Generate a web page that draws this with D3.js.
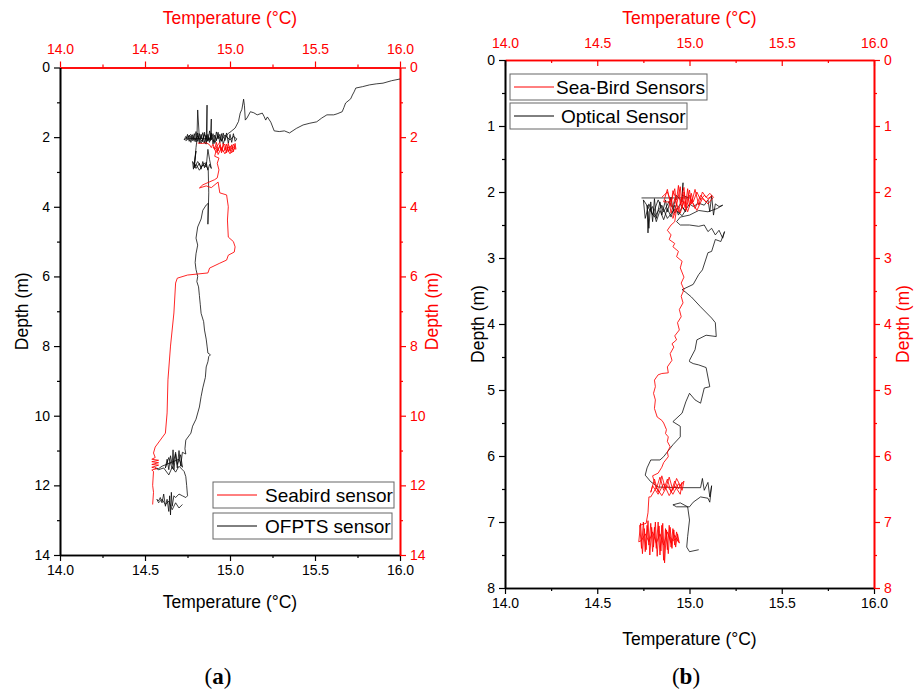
<!DOCTYPE html>
<html>
<head>
<meta charset="utf-8">
<title>Temperature profiles</title>
<script src="https://d3js.org/d3.v7.min.js"></script>
<style>
  body { margin: 0; background: #fff; }
  svg { font-family: "Liberation Sans", Arial, sans-serif; }
</style>
</head>
<body>
<svg id="chart" width="914" height="693"></svg>
<script>
// tick labels
let tempTicks = [14.0, 14.5, 15.0, 15.5, 16.0]
let tempMinor = [14.25, 14.75, 15.25, 15.75]
let depthTicksA = [0, 2, 4, 6, 8, 10, 12, 14]
let depthMinorA = [1, 3, 5, 7, 9, 11, 13]
let depthTicksB = [0, 1, 2, 3, 4, 5, 6, 7, 8]
let depthMinorB = [0.5, 1.5, 2.5, 3.5, 4.5, 5.5, 6.5, 7.5]

// panel (a) OFPTS sensor, [temperature, depth]
let ofptsA = [
  [16.00,0.33],[15.95,0.38],[15.90,0.45],[15.86,0.47],[15.82,0.50],[15.78,0.55],[15.74,0.59],[15.73,0.70],
  [15.72,0.79],[15.71,0.90],[15.68,1.02],[15.67,1.15],[15.66,1.27],[15.63,1.33],[15.61,1.36],[15.57,1.36],
  [15.54,1.45],[15.51,1.56],[15.47,1.60],[15.43,1.65],[15.39,1.75],[15.35,1.88],[15.32,1.82],[15.29,1.84],
  [15.26,1.82],[15.24,1.57],[15.22,1.42],[15.21,1.51],[15.20,1.40],[15.19,1.31],[15.16,1.36],[15.14,1.30],
  [15.12,1.27],[15.10,1.45],[15.09,1.51],[15.085,1.10],[15.08,0.91],[15.07,1.20],[15.06,1.31],[15.05,1.55],
  [15.03,1.74],[15.00,1.86],[14.99,1.89],
  [14.98,1.95],[14.97,2.10],[14.96,1.88],[14.95,2.12],[14.94,1.92],[14.93,2.05],[14.92,1.85],[14.91,2.14],
  [14.90,1.90],[14.89,2.08],[14.88,1.82],[14.87,2.12],[14.86,1.95],[14.85,2.16],[14.84,1.87],[14.83,2.05],
  [14.82,1.90],[14.81,2.12],[14.80,1.84],[14.79,2.08],[14.78,1.93],[14.77,2.15],[14.76,1.95],[14.75,2.05],
  [14.74,1.98],[14.73,2.08],[14.75,2.00],[14.77,1.92],[14.79,2.12],[14.81,1.96],[14.83,2.18],[14.85,1.92],
  [14.87,2.10],[14.89,1.95],[14.91,2.18],[14.93,1.96],[14.95,2.10],[14.97,1.94],[15.00,2.08],[15.02,1.98],
  [15.04,2.05],[15.03,2.12],[15.02,1.90],[15.01,2.15],[15.00,1.92],[14.99,2.18],[14.98,1.88],[14.97,2.05],
  [14.96,2.20],[14.95,1.90],[14.94,2.16],[14.93,1.86],[14.92,2.10],[14.91,1.94],[14.90,2.20],[14.89,1.88],
  [14.88,2.15],[14.87,1.92],[14.86,2.18],[14.85,1.86],[14.84,2.12],[14.83,1.92],[14.82,2.18],[14.81,1.88],
  [14.80,2.14],[14.79,1.90],[14.78,2.10],[14.77,1.96],[14.76,2.12],[14.75,1.92],[14.74,2.10],[14.76,2.04],
  [14.89,2.05],[14.89,1.48],[14.885,2.10],[14.865,2.00],[14.865,1.08],[14.86,2.20],[14.82,2.05],[14.81,1.22],
  [14.805,2.10],[14.80,2.30],[14.79,2.85],[14.80,2.40],[14.785,2.92],[14.78,2.70],[14.80,2.90],[14.82,2.75],
  [14.83,2.92],[14.84,2.70],[14.85,2.88],[14.86,2.72],[14.87,2.95],[14.88,2.78],[14.89,2.90],[14.88,2.65],
  [14.87,2.35],[14.86,2.85],[14.84,2.80],[14.82,2.95],[14.80,2.78],[14.79,2.88],[14.81,2.70],[14.83,2.86],
  [14.85,2.74],[14.87,2.92],[14.872,2.95],
  [14.875,3.60],[14.87,4.50],[14.872,3.90],[14.86,3.95],
  [14.84,4.10],[14.83,4.35],[14.81,4.58],[14.80,4.90],[14.81,5.10],[14.80,5.35],[14.795,5.60],[14.80,5.80],
  [14.81,6.00],[14.805,6.15],[14.815,6.30],[14.82,6.55],[14.825,6.80],[14.83,7.06],[14.845,7.30],[14.85,7.54],
  [14.86,7.80],[14.865,8.00],[14.87,8.20],[14.885,8.25],[14.875,8.30],[14.87,8.45],[14.86,8.60],[14.855,8.90],
  [14.84,9.20],[14.83,9.45],[14.82,9.75],[14.80,10.10],[14.78,10.30],[14.77,10.50],[14.74,10.70],[14.735,10.95],
  [14.74,11.10],
  [14.72,11.05],[14.71,11.45],[14.70,11.00],[14.69,11.50],[14.68,11.10],[14.67,11.55],[14.665,10.98],[14.66,11.40],
  [14.65,11.15],[14.64,11.55],[14.63,11.25],[14.62,11.50],[14.64,11.20],[14.66,11.52],[14.68,11.05],[14.69,11.40],
  [14.71,11.12],[14.72,11.48],[14.70,11.25],[14.60,11.45],[14.58,11.52],[14.56,11.50],[14.58,11.55],
  [14.61,11.50],[14.64,11.70],[14.66,11.48],[14.68,11.62],[14.70,11.45],[14.72,11.55],[14.73,11.60],[14.74,11.75],
  [14.745,12.00],[14.75,12.30],[14.74,12.35],
  [14.72,12.30],[14.70,12.25],[14.68,12.35],[14.67,12.30],[14.66,12.60],[14.655,12.20],[14.65,12.85],[14.645,12.30],
  [14.64,12.75],[14.63,12.40],[14.62,12.60],[14.61,12.25],[14.60,12.50],[14.59,12.35],[14.58,12.45],[14.57,12.40],
  [14.58,12.50],[14.60,12.40],[14.62,12.55],[14.64,12.45],[14.66,12.70],[14.68,12.50],[14.70,12.65],[14.72,12.55]
]

// panel (a) Seabird sensor
let seabirdA = [
  [14.81,2.17],[14.84,2.18],[14.86,2.16],[14.88,2.22],[14.89,2.30],[14.90,2.20],[14.91,2.35],[14.92,2.15],
  [14.93,2.40],[14.94,2.22],[14.95,2.45],[14.96,2.18],[14.97,2.38],[14.98,2.20],[14.99,2.42],[15.00,2.25],
  [15.01,2.35],[15.02,2.20],[15.03,2.30],[15.01,2.45],[14.99,2.28],[14.97,2.48],[14.95,2.30],[14.93,2.50],
  [14.92,2.28],[14.94,2.15],[14.95,2.38],[14.96,2.25],[14.97,2.20],[14.98,2.45],[14.99,2.18],[15.00,2.40],
  [15.01,2.22],[15.02,2.42],[15.03,2.18],[15.035,2.35],[15.02,2.28],[15.00,2.48],[14.98,2.30],[14.96,2.42],
  [14.94,2.26],[14.92,2.44],[14.90,2.28],
  [14.92,2.35],[14.91,2.55],[14.935,2.60],[14.925,2.75],[14.935,2.94],[14.925,3.17],[14.91,3.22],[14.84,3.37],
  [14.82,3.46],[14.86,3.40],[14.89,3.45],[14.93,3.29],[14.94,3.60],[14.98,3.66],[14.99,4.00],[14.985,4.38],
  [14.99,4.87],[15.02,5.00],[15.03,5.15],[15.025,5.30],[14.99,5.39],[14.98,5.53],[14.94,5.62],[14.88,5.76],
  [14.87,5.90],[14.75,5.96],[14.69,6.05],[14.68,6.19],[14.67,7.05],[14.65,8.00],[14.635,8.97],[14.63,9.92],
  [14.62,10.50],[14.59,10.70],[14.56,10.90],[14.55,11.07],
  [14.56,11.20],[14.54,11.25],[14.58,11.28],[14.54,11.32],[14.58,11.35],[14.54,11.40],[14.58,11.42],[14.54,11.48],
  [14.57,11.52],[14.54,11.56],[14.55,11.60],[14.545,12.00],[14.55,12.20],[14.545,12.55]
]

// panel (b) Optical sensor
let opticalB = [
  [14.74,2.09],[15.00,2.09],[14.96,2.05],[14.965,1.86],[14.96,2.15],[14.93,2.05],[14.91,2.25],[14.90,2.08],
  [14.88,2.30],[14.87,2.12],[14.85,2.35],[14.84,2.15],[14.82,2.40],[14.81,2.10],[14.80,2.45],[14.79,2.15],
  [14.78,2.55],[14.77,2.20],[14.775,2.62],[14.78,2.30],[14.80,2.22],[14.82,2.45],[14.84,2.28],[14.86,2.42],
  [14.88,2.25],[14.90,2.38],[14.92,2.20],[14.94,2.35],[14.96,2.22],[14.98,2.30],[14.95,2.18],[14.92,2.32],
  [14.89,2.14],[14.86,2.30],[14.83,2.12],[14.80,2.35],[14.78,2.18],[14.76,2.40],[14.75,2.12],[14.78,2.25],
  [14.81,2.38],[14.85,2.20],[14.88,2.40],[14.92,2.26],[14.96,2.36],[15.00,2.18],[15.02,2.22],
  [15.05,2.17],[15.08,2.20],[15.10,2.12],[15.11,2.30],[15.12,2.05],[15.13,2.35],[15.14,2.18],[15.16,2.22],
  [15.18,2.20],[15.15,2.25],[15.10,2.30],[15.05,2.28],[15.00,2.35],[14.95,2.38],[14.93,2.45],[14.95,2.50],
  [15.00,2.50],[15.05,2.52],[15.08,2.50],[15.10,2.60],[15.12,2.55],[15.14,2.65],[15.16,2.58],[15.18,2.70],
  [15.19,2.60],[15.17,2.75],[15.14,2.72],[15.12,2.90],
  [15.10,2.92],[15.07,3.18],[15.05,3.25],[15.02,3.40],[14.96,3.48],[14.98,3.52],[15.01,3.59],[15.06,3.74],
  [15.12,3.91],[15.14,3.98],[15.145,4.19],[15.09,4.17],[15.04,4.24],[15.03,4.39],[15.00,4.55],[15.00,4.57],
  [15.02,4.60],[15.05,4.62],[15.09,4.66],[15.11,4.95],[15.08,4.97],[15.06,5.20],[15.03,5.15],[15.00,5.05],
  [14.98,5.18],[14.96,5.35],[14.91,5.48],[14.95,5.55],[14.95,5.71],[14.91,5.83],[14.86,6.01],[14.84,6.06],
  [14.79,6.06],[14.77,6.18],[14.76,6.29],[14.79,6.39],[14.83,6.47],[14.95,6.48],[15.06,6.48],[15.07,6.34],
  [15.08,6.52],[15.10,6.40],[15.11,6.62],[15.12,6.45],[15.11,6.70],[15.10,6.64],[15.06,6.62],[15.02,6.70],
  [15.00,6.77],[14.93,6.77],[14.91,6.74],[14.95,6.71],[14.99,6.77],[15.00,6.97],[14.99,7.22],[14.985,7.38],
  [15.00,7.45],[15.05,7.42]
]

// panel (b) Sea-Bird sensors
let seaBirdB = [
  [14.85,2.08],[14.88,2.00],[14.90,2.15],[14.92,1.95],[14.93,2.20],[14.95,1.92],[14.96,2.25],[14.97,2.00],
  [14.98,2.18],[14.99,1.95],[15.00,2.22],[15.01,2.02],[15.02,2.15],[15.04,2.00],[15.06,2.12],[15.08,2.05],
  [15.10,2.10],[15.12,2.06],[15.09,2.15],[15.06,2.05],[15.03,2.25],[15.00,2.05],[14.98,2.28],[14.96,2.08],
  [14.94,2.30],[14.92,2.10],[14.90,2.32],[14.89,2.15],
  [14.86,2.15],[14.88,1.96],[14.90,2.22],[14.91,1.98],[14.93,2.12],[14.94,1.90],[14.95,2.18],[14.97,1.93],
  [14.98,2.24],[15.00,1.97],[15.01,2.18],[15.03,1.96],[15.05,2.20],[15.07,2.00],[15.09,2.08],[15.11,2.02],
  [15.13,2.08],[15.10,2.18],[15.07,2.10],[15.04,2.28],[15.01,2.12],[14.99,2.30],[14.97,2.14],[14.95,2.32],
  [14.93,2.18],[14.91,2.36],[14.91,2.40],[14.93,2.25],[14.92,2.45],
  [14.90,2.50],[14.88,2.58],[14.90,2.65],[14.89,2.72],[14.92,2.78],[14.91,2.83],[14.94,2.90],[14.93,2.98],
  [14.96,3.05],[14.95,3.15],[14.97,3.29],[14.955,3.38],[14.97,3.48],[14.955,3.58],[14.965,3.68],[14.945,3.78],
  [14.955,3.89],[14.935,3.98],[14.945,4.09],[14.92,4.18],[14.93,4.24],[14.905,4.30],[14.915,4.35],[14.895,4.45],
  [14.905,4.55],[14.88,4.65],[14.885,4.74],[14.85,4.75],[14.83,4.77],[14.81,4.85],[14.815,4.95],[14.805,5.05],
  [14.815,5.15],[14.81,5.28],[14.825,5.41],[14.85,5.46],[14.86,5.50],[14.875,5.60],[14.87,5.66],[14.885,5.71],
  [14.88,5.78],[14.895,5.86],[14.88,5.94],[14.885,6.01],[14.86,6.10],[14.85,6.17],[14.83,6.26],
  [14.80,6.30],[14.82,6.50],[14.84,6.32],[14.86,6.52],[14.88,6.35],[14.90,6.55],[14.92,6.38],[14.94,6.50],
  [14.96,6.40],[14.95,6.58],[14.92,6.45],[14.89,6.60],[14.86,6.42],[14.83,6.58],[14.80,6.45],
  [14.79,6.55],[14.81,6.35],[14.83,6.55],[14.85,6.30],[14.87,6.50],[14.89,6.32],[14.91,6.52],[14.93,6.34],
  [14.95,6.45],[14.97,6.38],[14.96,6.52],[14.94,6.42],[14.91,6.58],[14.88,6.45],[14.85,6.60],[14.82,6.48],
  [14.79,6.62],[14.78,6.62],[14.775,6.86],[14.765,7.02],
  [14.73,7.05],[14.74,7.40],[14.75,7.00],[14.76,7.45],[14.77,7.05],[14.78,7.35],[14.79,7.02],[14.80,7.45],
  [14.81,7.08],[14.82,7.40],[14.83,7.00],[14.84,7.50],[14.85,7.05],[14.86,7.58],[14.87,7.10],[14.88,7.42],
  [14.89,7.05],[14.90,7.38],[14.91,7.10],[14.92,7.35],[14.93,7.15],[14.94,7.30],[14.92,7.20],[14.90,7.32],
  [14.88,7.15],[14.86,7.35],[14.84,7.18],[14.82,7.32],[14.80,7.15],[14.78,7.30],[14.76,7.18],[14.74,7.28],
  [14.725,7.30],[14.735,7.02],[14.745,7.48],[14.755,7.10],[14.765,7.42],[14.775,6.98],[14.785,7.50],[14.795,7.08],
  [14.805,7.38],[14.815,7.00],[14.825,7.52],[14.835,7.06],[14.845,7.44],[14.855,7.02],[14.865,7.62],[14.875,7.12],
  [14.885,7.48],[14.895,7.08],[14.905,7.40],[14.915,7.12],[14.925,7.38],[14.935,7.18],[14.945,7.32],[14.93,7.25],
  [14.91,7.28],[14.89,7.22]
]

let red = "#ff0000"
let svg = d3.select("#chart")

function drawPanel(opt) {
  let x = d3.scaleLinear().domain([14, 16]).range([opt.left, opt.right])
  let y = d3.scaleLinear().domain([0, opt.maxDepth]).range([opt.top, opt.bottom])
  let g = svg.append("g")

  let addAxis = (maker, scale, tr, values, fmt, size, color, pad) => {
    let ax = g.append("g").attr("transform", tr)
      .call(maker(scale).tickValues(values).tickFormat(fmt).tickSize(size).tickSizeOuter(0).tickPadding(pad || 4))
    ax.select(".domain").attr("stroke", color).attr("stroke-width", 1.6)
    ax.selectAll(".tick line").attr("stroke", color).attr("stroke-width", 1.2)
    ax.selectAll("text").attr("fill", color).style("font-size", "14px")
      .style("font-family", "'Liberation Sans', Arial, sans-serif")
    return ax
  }
  let tf = d3.format(".1f")
  let df = d3.format("d")
  let none = () => ""

  // bottom (black)
  addAxis(d3.axisBottom, x, `translate(0,${opt.bottom})`, tempMinor, none, 3, "#000")
  addAxis(d3.axisBottom, x, `translate(0,${opt.bottom})`, tempTicks, tf, 6, "#000")
  // top (red)
  addAxis(d3.axisTop, x, `translate(0,${opt.top})`, tempMinor, none, opt.topIn ? -3 : 3, red)
  addAxis(d3.axisTop, x, `translate(0,${opt.top})`, tempTicks, tf, opt.topIn ? -6 : 6, red, opt.topPad)
  // left (black)
  addAxis(d3.axisLeft, y, `translate(${opt.left},0)`, opt.depthMinor, none, 3, "#000")
  addAxis(d3.axisLeft, y, `translate(${opt.left},0)`, opt.depthTicks, df, 6, "#000")
  // right (red)
  addAxis(d3.axisRight, y, `translate(${opt.right},0)`, opt.depthMinor, none, 3, red)
  addAxis(d3.axisRight, y, `translate(${opt.right},0)`, opt.depthTicks, df, 6, red)

  let line = d3.line().x(d => x(d[0])).y(d => y(d[1]))

  g.append("path").datum(opt.blackData)
    .attr("d", line).attr("fill", "none").attr("stroke", "#000").attr("stroke-width", 0.75)
  g.append("path").datum(opt.redData)
    .attr("d", line).attr("fill", "none").attr("stroke", red).attr("stroke-width", 0.85)

  let cx = (opt.left + opt.right) / 2
  let cy = (opt.top + opt.bottom) / 2
  g.append("text").attr("x", cx).attr("y", 24).attr("text-anchor", "middle")
    .attr("fill", red).style("font-size", "17.5px").text("Temperature (°C)")
  g.append("text").attr("x", cx).attr("y", opt.bottomTitleY).attr("text-anchor", "middle")
    .attr("fill", "#000").style("font-size", "17.5px").text("Temperature (°C)")
  g.append("text").attr("transform", `translate(${opt.leftTitleX},${cy}) rotate(-90)`)
    .attr("text-anchor", "middle").attr("fill", "#000").style("font-size", "17.5px").text("Depth (m)")
  g.append("text").attr("transform", `translate(${opt.rightTitleX},${cy}) rotate(-90)`)
    .attr("text-anchor", "middle").attr("fill", red).style("font-size", "17.5px").text("Depth (m)")

  // legend boxes
  opt.legend.forEach(l => {
    g.append("rect").attr("x", l.x).attr("y", l.y).attr("width", l.w).attr("height", 26)
      .attr("fill", "#fff").attr("stroke", "#666").attr("stroke-width", 1)
    g.append("line").attr("x1", l.x + 4).attr("x2", l.x + 44).attr("y1", l.y + 13).attr("y2", l.y + 13)
      .attr("stroke", l.color).attr("stroke-width", 1)
    g.append("text").attr("x", l.x + l.tx).attr("y", l.y + 20).attr("fill", "#000")
      .style("font-size", "19px").text(l.label)
  })

  let lab = g.append("text").attr("x", opt.tagX).attr("y", 684).attr("text-anchor", "middle")
    .style("font-family", "'Liberation Serif', 'DejaVu Serif', serif").style("font-size", "23px")
  lab.append("tspan").text("(")
  lab.append("tspan").style("font-weight", "bold").text(opt.tag)
  lab.append("tspan").text(")")
}

drawPanel({
  left: 60, right: 400, top: 67.5, bottom: 555, maxDepth: 14,
  depthTicks: depthTicksA, depthMinor: depthMinorA,
  blackData: ofptsA, redData: seabirdA,
  bottomTitleY: 608, leftTitleX: 28, rightTitleX: 438, topIn: false, topPad: 8,
  legend: [
    {x: 213, y: 482, w: 181, color: red, label: "Seabird sensor", tx: 52},
    {x: 213, y: 513, w: 179, color: "#000", label: "OFPTS sensor", tx: 52}
  ],
  tag: "a", tagX: 218
})

drawPanel({
  left: 505, right: 874, top: 60, bottom: 588, maxDepth: 8,
  depthTicks: depthTicksB, depthMinor: depthMinorB,
  blackData: opticalB, redData: seaBirdB,
  bottomTitleY: 645, leftTitleX: 484, rightTitleX: 909, topIn: true, topPad: 12,
  legend: [
    {x: 510, y: 74, w: 197, color: red, label: "Sea-Bird Sensors", tx: 46},
    {x: 510, y: 103, w: 177, color: "#000", label: "Optical Sensor", tx: 51}
  ],
  tag: "b", tagX: 686
})
</script>
</body>
</html>
